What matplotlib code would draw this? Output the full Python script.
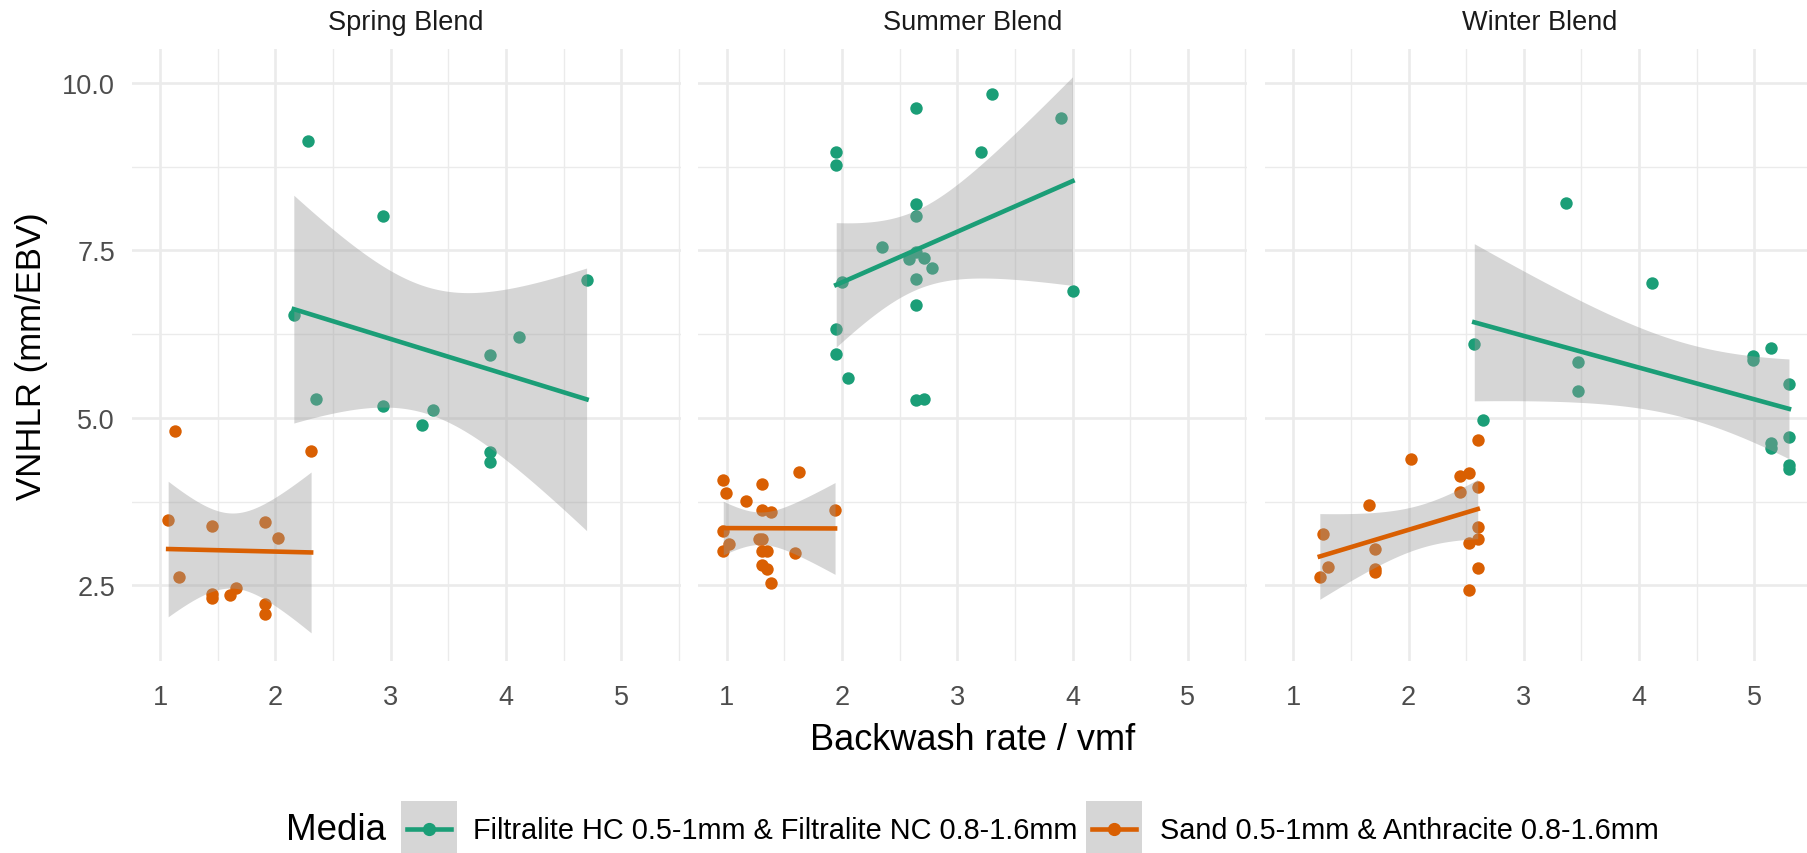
import math
import numpy as np
import matplotlib
matplotlib.use("Agg")
import matplotlib.pyplot as plt
from matplotlib.patches import Rectangle
from matplotlib.lines import Line2D

plt.rcParams['font.family'] = ['Liberation Sans', 'DejaVu Sans']

blends = ['Spring Blend', 'Summer Blend', 'Winter Blend']
media = ['Filtralite HC 0.5-1mm & Filtralite NC 0.8-1.6mm',
         'Sand 0.5-1mm & Anthracite 0.8-1.6mm']
media_colors = ['#1B9E77', '#D95F02']

# backwash rate / vmf and VNHLR (mm/EBV) per blend and media
spring_fil_x = [2.28, 2.93, 2.16, 4.70, 4.11, 3.86, 2.35, 2.93, 3.37, 3.27, 3.86, 3.86]
spring_fil_y = [9.14, 8.02, 6.53, 7.06, 6.21, 5.94, 5.28, 5.18, 5.12, 4.89, 4.49, 4.34]
spring_sand_x = [1.13, 2.31, 1.07, 1.45, 1.91, 2.02, 1.16, 1.45, 1.45, 1.61, 1.66, 1.91, 1.91]
spring_sand_y = [4.81, 4.50, 3.47, 3.39, 3.45, 3.21, 2.62, 2.38, 2.32, 2.36, 2.46, 2.23, 2.08]

summer_fil_x = [3.30, 2.64, 3.90, 1.95, 1.95, 3.21, 2.64, 2.64, 2.35, 2.58, 2.64,
                2.71, 2.78, 2.00, 2.64, 4.00, 2.64, 1.95, 1.95, 2.05, 2.64, 2.71]
summer_fil_y = [9.84, 9.63, 9.48, 8.97, 8.77, 8.97, 8.19, 8.01, 7.55, 7.38, 7.48,
                7.39, 7.24, 7.03, 7.07, 6.90, 6.68, 6.33, 5.95, 5.59, 5.27, 5.29]
summer_sand_x = [1.63, 0.97, 0.99, 1.31, 1.17, 1.31, 1.38, 1.94, 0.97, 1.02,
                 0.97, 1.28, 1.31, 1.31, 1.35, 1.59, 1.31, 1.35, 1.38]
summer_sand_y = [4.20, 4.08, 3.88, 4.01, 3.76, 3.63, 3.60, 3.63, 3.31, 3.12,
                 3.02, 3.20, 3.20, 3.01, 3.01, 2.99, 2.81, 2.75, 2.53]

winter_fil_x = [3.37, 4.11, 2.57, 3.47, 3.47, 4.99, 4.99, 5.14, 5.30, 2.65,
                5.30, 5.14, 5.14, 5.30, 5.30]
winter_fil_y = [8.21, 7.01, 6.10, 5.84, 5.41, 5.92, 5.87, 6.05, 5.51, 4.97,
                4.72, 4.62, 4.55, 4.30, 4.24]
winter_sand_x = [2.60, 2.02, 2.45, 2.52, 2.60, 2.45, 1.66, 2.60, 2.60, 2.52,
                 1.26, 1.71, 1.71, 1.71, 1.30, 1.23, 2.60, 2.52]
winter_sand_y = [4.67, 4.39, 4.14, 4.18, 3.97, 3.90, 3.70, 3.37, 3.20, 3.14,
                 3.27, 3.05, 2.75, 2.70, 2.78, 2.62, 2.76, 2.43]

panels = [
    [(spring_fil_x, spring_fil_y), (spring_sand_x, spring_sand_y)],
    [(summer_fil_x, summer_fil_y), (summer_sand_x, summer_sand_y)],
    [(winter_fil_x, winter_fil_y), (winter_sand_x, winter_sand_y)],
]


def t_ppf(p, df):
    # student t quantile by integrating the density
    xs = np.linspace(0, 30, 60001)
    c = math.gamma((df + 1) / 2) / (math.sqrt(df * math.pi) * math.gamma(df / 2))
    pdf = c * (1 + xs ** 2 / df) ** (-(df + 1) / 2)
    cdf = 0.5 + np.concatenate([[0], np.cumsum((pdf[1:] + pdf[:-1]) / 2 * np.diff(xs))])
    return float(np.interp(p, cdf, xs))


def lm_fit(x, y, n_out=80):
    x = np.asarray(x)
    y = np.asarray(y)
    n = len(x)
    b1, b0 = np.polyfit(x, y, 1)
    resid = y - (b0 + b1 * x)
    s = math.sqrt(np.sum(resid ** 2) / (n - 2))
    xm = x.mean()
    sxx = np.sum((x - xm) ** 2)
    xg = np.linspace(x.min(), x.max(), n_out)
    yg = b0 + b1 * xg
    se = s * np.sqrt(1 / n + (xg - xm) ** 2 / sxx)
    t = t_ppf(0.975, n - 2)
    return xg, yg, yg - t * se, yg + t * se


fits = [[lm_fit(x, y) for x, y in groups] for groups in panels]

# shared limits with 5% padding
all_x = np.concatenate([np.concatenate([g[0] for g in p]) for p in panels])
all_y = [np.concatenate([g[1] for g in p]) for p in panels]
all_y += [f[2] for p in fits for f in p] + [f[3] for p in fits for f in p]
all_y = np.concatenate(all_y)
xr = all_x.max() - all_x.min()
yr = all_y.max() - all_y.min()
xlim = (all_x.min() - 0.05 * xr, all_x.max() + 0.05 * xr)
ylim = (all_y.min() - 0.05 * yr, all_y.max() + 0.05 * yr)

W, H = 1807, 854
fig = plt.figure(figsize=(W / 100, H / 100), dpi=100)
fig.patch.set_facecolor('white')


def fx(px):
    return px / W


def fy(py):
    return 1 - py / H


left, top, bottom = 131.7, 50.0, 661.7
pw, gap = 549.0, 17.6
grid_col = '#EBEBEB'

axes = []
for i, blend in enumerate(blends):
    x0 = left + i * (pw + gap)
    ax = fig.add_axes([fx(x0), fy(bottom), pw / W, (bottom - top) / H])
    axes.append(ax)
    ax.set_xlim(*xlim)
    ax.set_ylim(*ylim)
    ax.set_xticks([1, 2, 3, 4, 5])
    ax.set_xticks([1.5, 2.5, 3.5, 4.5, 5.5], minor=True)
    ax.set_yticks([2.5, 5.0, 7.5, 10.0])
    ax.set_yticks([3.75, 6.25, 8.75], minor=True)
    ax.grid(which='major', color=grid_col, lw=1.9, zorder=0)
    ax.grid(which='minor', color=grid_col, lw=1.0, zorder=0)
    ax.set_axisbelow(True)
    for sp in ax.spines.values():
        sp.set_visible(False)
    ax.tick_params(which='both', length=0, labelsize=19.5, labelcolor='#4D4D4D')
    ax.tick_params(axis='x', pad=17)
    ax.tick_params(axis='y', pad=12)
    if i == 0:
        ax.set_yticklabels(['2.5', '5.0', '7.5', '10.0'])
    else:
        ax.set_yticklabels([])

    for (x, y), col in zip(panels[i], media_colors):
        ax.scatter(x, y, s=80, color=col, linewidths=0, zorder=2)
    for f, col in zip(fits[i], media_colors):
        xg, yg, lo, hi = f
        ax.fill_between(xg, lo, hi, color='#999999', alpha=0.4, lw=0, zorder=3)
        ax.plot(xg, yg, color=col, lw=3.3, zorder=4)

    fig.text(fx(x0 + pw / 2), fy(23.3), blend, ha='center', va='center',
             fontsize=19.5, color='#1A1A1A')

fig.text(fx(32), fy((top + bottom) / 2), 'VNHLR (mm/EBV)', rotation=90,
         ha='center', va='center', fontsize=25, color='black')
fig.text(fx(left + (3 * pw + 2 * gap) / 2), fy(741), 'Backwash rate / vmf',
         ha='center', va='center', fontsize=26, color='black')

# legend along the bottom
fig.text(fx(386), fy(831), 'Media', ha='right', va='center', fontsize=26.5)
key_x = [401, 1086]
text_x = [473, 1160]
for kx, tx, lab, col in zip(key_x, text_x, media, media_colors):
    fig.add_artist(Rectangle((fx(kx), fy(858)), 56 / W, 56 / H,
                             transform=fig.transFigure, facecolor='#999999',
                             alpha=0.4, lw=0))
    fig.add_artist(Line2D([fx(kx + 6), fx(kx + 50)], [fy(830), fy(830)],
                          transform=fig.transFigure, color=col, lw=3.3))
    fig.add_artist(Line2D([fx(kx + 28)], [fy(830)], transform=fig.transFigure,
                          marker='o', markersize=8.5, color=col, lw=0))
    fig.text(fx(tx), fy(831), lab, ha='left', va='center', fontsize=20.8)

fig.savefig('out.png', dpi=100, facecolor='white')
